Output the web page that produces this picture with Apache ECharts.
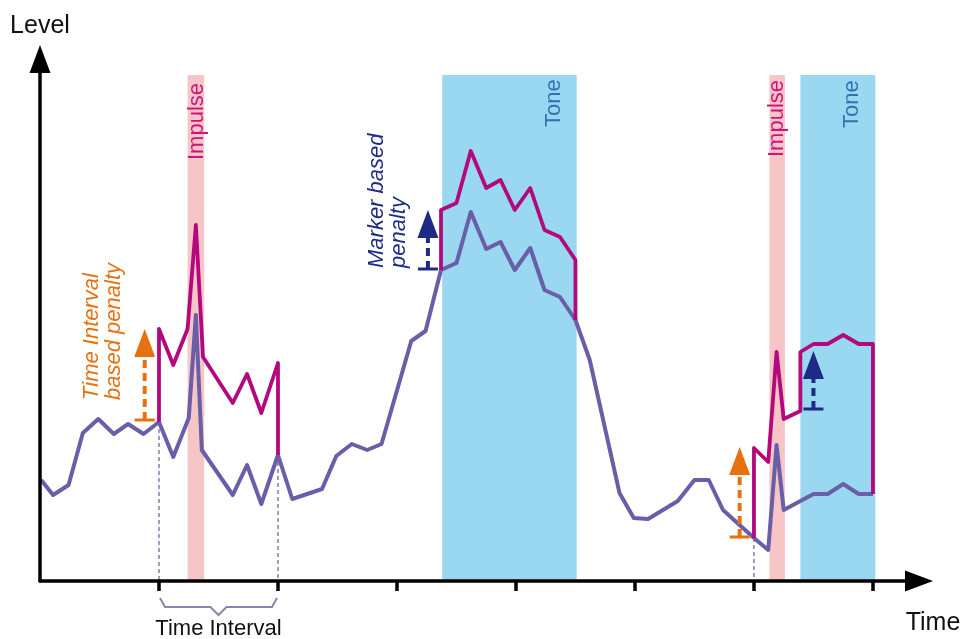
<!DOCTYPE html>
<html>
<head>
<meta charset="utf-8">
<script src="https://cdn.jsdelivr.net/npm/echarts@6/dist/echarts.min.js"></script>
<style>
  html, body { margin: 0; padding: 0; background: #fff; }
  #chart { width: 967px; height: 639px; }
</style>
</head>
<body>
<div id="chart"></div>
<script>
// measured level over time (blue curve)
const baseTime = [0.1, 1.1, 2.4, 3.6, 4.9, 6.2, 7.4, 8.7, 10.0, 11.2, 12.5, 13.1, 13.6, 16.2, 17.4, 18.6, 20.0,
  21.2, 23.7, 24.9, 26.2, 27.5, 28.7, 31.2, 32.4, 33.7, 35.0, 36.2, 37.5, 38.7, 39.9, 41.2, 42.4, 43.7, 45.0,
  46.2, 48.7, 49.9, 51.1, 53.6, 55.0, 56.2, 57.4, 60.0, 61.2, 61.9, 62.5, 65.0, 66.2, 67.5, 68.8, 70.0]
const baseLevel = [20.2, 17.2, 19.2, 29.6, 32.4, 29.4, 31.4, 29.4, 31.8, 24.8, 32.6, 53.2, 26.2, 17.2, 23.2, 15.4, 25.2,
  16.4, 18.4, 25.0, 27.4, 26.2, 27.4, 48.0, 50.0, 62.2, 63.6, 73.8, 66.4, 67.8, 62.2, 66.6, 58.2, 56.8, 52.2,
  44.2, 17.6, 12.6, 12.4, 16.0, 20.2, 20.2, 14.2, 8.6, 6.2, 27.2, 14.2, 17.4, 17.4, 19.4, 17.4, 17.4]

// penalised level (magenta), three segments
const penaltyATime = [10.0, 10.0, 11.2, 12.4, 13.1, 13.7, 16.2, 17.4, 18.6, 20.0, 20.0]
const penaltyALevel = [31.8, 50.4, 43.2, 50.4, 71.2, 44.8, 35.6, 41.4, 33.6, 43.6, 25.2]
const penaltyBTime = [33.7, 33.7, 35.0, 36.2, 37.5, 38.7, 39.9, 41.2, 42.4, 43.7, 45.0, 45.0]
const penaltyBLevel = [62.2, 74.2, 75.6, 86.0, 78.6, 80.2, 74.2, 78.6, 70.2, 68.8, 64.2, 52.2]
const penaltyCTime = [60.0, 60.0, 61.2, 61.9, 62.5, 63.9, 63.9, 65.0, 66.2, 67.5, 68.8, 70.0, 70.0]
const penaltyCLevel = [8.6, 26.6, 23.8, 45.8, 32.4, 34.0, 45.8, 47.4, 47.4, 49.2, 47.4, 47.4, 17.4]

// event bands [start, end]
const impulseBands = [[12.4, 13.8], [61.3, 62.6]]
const toneBands = [[33.8, 45.1], [63.9, 70.2]]
const bandTop = 101.2

// penalty arrows [time, from level, to level]
const intervalArrows = [[8.8, 32.2, 50.4], [58.8, 8.8, 26.8]]
const markerArrows = [[32.6, 62.4, 74.2], [65.0, 34.4, 46.0]]

// time interval edges [time, level on curve]
const intervalEdges = [[10, 31.8], [20, 25.2], [60, 8.6]]
const intervalSpan = [[10, 20]]

const timeTicks = [10, 20, 30, 40, 50, 60, 70]

// text annotations [text, time, level]
const bandLabels = [['Impulse', 13.2, 84.2], ['Tone', 43.2, 90.8], ['Impulse', 61.9, 84.8], ['Tone', 68.2, 90.6]]
const penaltyLabels = [['Time Interval\nbased penalty', 5.3, 36.2], ['Marker based\npenalty', 29.2, 62.6]]

const FONT = "'Liberation Sans', Arial, sans-serif"
const BLUE = '#6a5ea8'
const MAGENTA = '#b3087e'
const ORANGE = '#e9700f'
const NAVY = '#1d2a86'

const zip = (xs, ys) => xs.map((x, i) => [x, ys[i]])

function bandSeries(bands, color, z) {
  return {
    type: 'custom',
    z,
    silent: true,
    data: bands,
    encode: { x: [0, 1] },
    renderItem: (params, api) => {
      const a = api.coord([api.value(0), bandTop])
      const b = api.coord([api.value(1), 0])
      return { type: 'rect', shape: { x: a[0], y: a[1], width: b[0] - a[0], height: b[1] - a[1] }, style: { fill: color } }
    },
  }
}

function arrowSeries(arrows, color) {
  return {
    type: 'custom',
    z: 6,
    silent: true,
    data: arrows,
    encode: { x: 0, y: [1, 2] },
    renderItem: (params, api) => {
      const base = api.coord([api.value(0), api.value(1)])
      const tip = api.coord([api.value(0), api.value(2)])
      const headLen = 28
      const headW = 10.5
      return {
        type: 'group',
        children: [
          { type: 'line', shape: { x1: base[0] - 10, y1: base[1], x2: base[0] + 10, y2: base[1] }, style: { stroke: color, lineWidth: 3 } },
          { type: 'line', shape: { x1: base[0], y1: base[1], x2: tip[0], y2: tip[1] + headLen }, style: { stroke: color, lineWidth: 4, lineDash: [8, 5] } },
          { type: 'polygon', shape: { points: [[tip[0], tip[1]], [tip[0] - headW, tip[1] + headLen], [tip[0] + headW, tip[1] + headLen]] }, style: { fill: color } },
        ],
      }
    },
  }
}

function labelSeries(labels, colorFn, font) {
  return {
    type: 'custom',
    z: 7,
    silent: true,
    data: labels.map(l => [l[1], l[2]]),
    encode: { x: 0, y: 1 },
    renderItem: (params, api) => {
      const p = api.coord([api.value(0), api.value(1)])
      const label = labels[params.dataIndex]
      return {
        type: 'text',
        x: p[0],
        y: p[1],
        rotation: Math.PI / 2,
        style: { text: label[0], fill: colorFn(label[0]), font, align: 'left', verticalAlign: 'middle', lineHeight: 22 },
      }
    },
  }
}

const chart = echarts.init(document.getElementById('chart'))

chart.setOption({
  animation: false,
  backgroundColor: '#fff',
  grid: { left: 40, right: 48, top: 59, bottom: 58, containLabel: false, outerBoundsMode: 'none' },
  xAxis: {
    type: 'value',
    min: 0,
    max: 73.87,
    z: 10,
    name: 'Time',
    nameLocation: 'end',
    nameGap: 14,
    nameTextStyle: { color: '#111', fontSize: 25, fontFamily: FONT, align: 'center', verticalAlign: 'top', padding: [30, 0, 0, 0] },
    axisLine: { lineStyle: { color: '#000', width: 3.5 }, symbol: ['none', 'triangle'], symbolSize: [21, 28] },
    axisTick: { show: true, customValues: timeTicks, length: 10, lineStyle: { color: '#000', width: 3.5 } },
    axisLabel: { show: false },
    splitLine: { show: false },
  },
  yAxis: {
    type: 'value',
    min: 0,
    max: 104.4,
    z: 10,
    name: 'Level',
    nameLocation: 'end',
    nameGap: 33,
    nameTextStyle: { color: '#111', fontSize: 25, fontFamily: FONT, align: 'center', verticalAlign: 'middle' },
    axisLine: { show: true, lineStyle: { color: '#000', width: 3.5 }, symbol: ['none', 'triangle'], symbolSize: [21, 28] },
    axisTick: { show: false },
    axisLabel: { show: false },
    splitLine: { show: false },
  },
  series: [
    bandSeries(impulseBands, '#f6c6c6', 1),
    bandSeries(toneBands, '#9ad8f1', 1),
    {
      type: 'custom',
      z: 2,
      silent: true,
      data: intervalEdges,
      encode: { x: 0, y: 1 },
      renderItem: (params, api) => {
        const a = api.coord([api.value(0), api.value(1)])
        const b = api.coord([api.value(0), 0])
        return { type: 'line', shape: { x1: a[0], y1: a[1], x2: b[0], y2: b[1] }, style: { stroke: '#6e6a9c', lineWidth: 1.3, lineDash: [4, 3] } }
      },
    },
    {
      type: 'custom',
      z: 2,
      silent: true,
      clip: false,
      data: intervalSpan,
      encode: { x: [0, 1] },
      renderItem: (params, api) => {
        const a = api.coord([api.value(0), 0])
        const b = api.coord([api.value(1), 0])
        const m = (a[0] + b[0]) / 2
        const y = a[1]
        return {
          type: 'group',
          children: [
            {
              type: 'polyline',
              shape: { points: [[a[0] + 1, y + 17], [a[0] + 6, y + 26], [m - 8, y + 26], [m, y + 34], [m + 8, y + 26], [b[0] - 6, y + 26], [b[0] - 1, y + 17]] },
              style: { stroke: '#8a84ac', lineWidth: 2, fill: null },
            },
            { type: 'text', x: m, y: y + 37, style: { text: 'Time Interval', fill: '#111', font: '22px ' + FONT, align: 'center', verticalAlign: 'top' } },
          ],
        }
      },
    },
    {
      type: 'line',
      z: 3,
      data: zip(baseTime, baseLevel),
      showSymbol: false,
      symbol: 'none',
      lineStyle: { color: BLUE, width: 4, join: 'round' },
    },
    ...[[penaltyATime, penaltyALevel], [penaltyBTime, penaltyBLevel], [penaltyCTime, penaltyCLevel]].map(([t, l]) => ({
      type: 'line',
      z: 4,
      data: zip(t, l),
      showSymbol: false,
      symbol: 'none',
      lineStyle: { color: MAGENTA, width: 3.8, join: 'round' },
    })),
    arrowSeries(intervalArrows, ORANGE),
    arrowSeries(markerArrows, NAVY),
    labelSeries(bandLabels, t => (t === 'Tone' ? '#2f72b4' : '#d0127e'), '22px ' + FONT),
    labelSeries(penaltyLabels, t => (t.startsWith('Marker') ? NAVY : ORANGE), 'italic 22px ' + FONT),
  ],
})
</script>
</body>
</html>
